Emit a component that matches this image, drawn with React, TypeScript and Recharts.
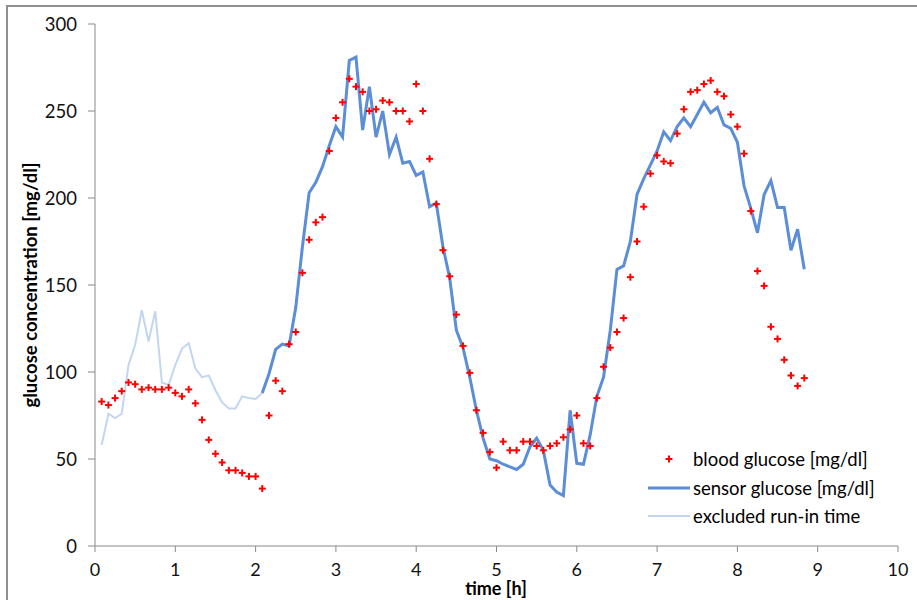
import { ComposedChart, Line, Scatter, XAxis, YAxis } from 'recharts';

// time grid in hours (5 min samples)
const times = [
  0.083, 0.167, 0.25, 0.333, 0.417, 0.5, 0.583, 0.667, 0.75, 0.833, 0.917, 1.0,
  1.083, 1.167, 1.25, 1.333, 1.417, 1.5, 1.583, 1.667, 1.75, 1.833, 1.917, 2.0,
  2.083, 2.167, 2.25, 2.333, 2.417, 2.5, 2.583, 2.667, 2.75, 2.833, 2.917, 3.0,
  3.083, 3.167, 3.25, 3.333, 3.417, 3.5, 3.583, 3.667, 3.75, 3.833, 3.917, 4.0,
  4.083, 4.167, 4.25, 4.333, 4.417, 4.5, 4.583, 4.667, 4.75, 4.833, 4.917, 5.0,
  5.083, 5.167, 5.25, 5.333, 5.417, 5.5, 5.583, 5.667, 5.75, 5.833, 5.917, 6.0,
  6.083, 6.167, 6.25, 6.333, 6.417, 6.5, 6.583, 6.667, 6.75, 6.833, 6.917, 7.0,
  7.083, 7.167, 7.25, 7.333, 7.417, 7.5, 7.583, 7.667, 7.75, 7.833, 7.917, 8.0,
  8.083, 8.167, 8.25, 8.333, 8.417, 8.5, 8.583, 8.667, 8.75, 8.833,
];

const bloodGlucose = [
  83, 81, 85, 89, 94, 93, 90, 91, 90, 90, 91, 88,
  86, 90, 82, 72.5, 61, 53, 48, 43.5, 43.5, 42, 40, 40,
  33, 75, 95, 89, 116, 123, 157, 176, 186, 189, 227, 246,
  255, 268.5, 264, 261, 250, 251, 256, 255, 250, 250, 244, 265.5,
  250, 222.5, 196.5, 170, 155, 133, 115, 99.5, 78, 65, 54, 45,
  60, 55, 55, 60, 60, 57.5, 55, 57.5, 59, 62.5, 67, 75,
  59, 57.5, 85, 103, 114, 123, 131, 154.5, 175, 195, 214, 224.5,
  221, 220, 237, 251, 261, 262, 265.5, 267.5, 261, 258.5, 248, 241,
  225.5, 192.5, 158, 149.5, 126, 119, 107, 98, 92, 96.5,
];

// sensor starts at 2.083 h
const sensorStart = 24;
const sensorGlucose = [
  88, 99, 113, 116, 115, 137, 172, 203, 209, 218, 230, 241,
  235, 279, 281, 239, 264, 235, 250, 225, 235, 220, 221, 213,
  215, 195, 197, 172, 154, 124, 114, 97, 78, 62, 50, 49,
  47, 45.5, 44, 47, 57, 62, 55, 35, 31, 29, 78, 47.5,
  47, 64, 86, 97, 124, 159, 161, 175, 202, 211, 219, 227,
  238, 233, 241, 246, 241, 248, 255, 249, 252, 242, 240, 232,
  207, 194, 180, 202, 210, 194.5, 194.5, 170, 182, 159,
];

// run-in period, 0.083 - 2.083 h
const runInGlucose = [
  58, 76, 73.5, 76, 104, 115.5, 135.5, 117.5, 135, 94, 92.5, 104,
  113.5, 116.5, 102, 97, 98, 89.5, 82.5, 79, 79, 86, 85, 84.5, 88,
];

const xTicks = [0, 1, 2, 3, 4, 5, 6, 7, 8, 9, 10];
const yTicks = [0, 50, 100, 150, 200, 250, 300];

const data = times.map((t, i) => ({
  t,
  blood: bloodGlucose[i],
  runIn: i < runInGlucose.length ? runInGlucose[i] : null,
  sensor: i >= sensorStart ? sensorGlucose[i - sensorStart] : null,
}));

const FONT = 'Lato, "Liberation Sans", sans-serif';
const RED = '#ff0000';
const BLUE = '#5b8ed6';
const LIGHT = '#c3d6ef';
const AXIS = '#8a8a8a';

const Plus = (props: any) => {
  const { cx, cy } = props;
  if (cx == null || cy == null) return null;
  return (
    <g stroke={RED} strokeWidth={2}>
      <line x1={cx - 3.5} y1={cy} x2={cx + 3.5} y2={cy} />
      <line x1={cx} y1={cy - 3.5} x2={cx} y2={cy + 3.5} />
    </g>
  );
};

const legendRows = [
  { name: 'blood glucose [mg/dl]', kind: 'plus' },
  { name: 'sensor glucose [mg/dl]', kind: 'thick' },
  { name: 'excluded run-in time', kind: 'thin' },
];

const GlucoseLegend = () => (
  <div style={{ position: 'absolute', left: 646, top: 445, fontFamily: FONT, fontSize: 18.5, color: '#000' }}>
    {legendRows.map((r) => (
      <div key={r.name} style={{ display: 'flex', alignItems: 'center', height: 28.5 }}>
        <svg width={47} height={28} style={{ display: 'block' }}>
          {r.kind === 'plus' && <Plus cx={23} cy={14} />}
          {r.kind === 'thick' && <line x1={2} y1={14} x2={44} y2={14} stroke={BLUE} strokeWidth={3} />}
          {r.kind === 'thin' && <line x1={2} y1={14} x2={44} y2={14} stroke={LIGHT} strokeWidth={2} />}
        </svg>
        <span style={{ whiteSpace: 'nowrap' }}>{r.name}</span>
      </div>
    ))}
  </div>
);

export default function App() {
  return (
    <div style={{ position: 'fixed', left: 0, top: 0, width: 917, height: 600, background: '#fff' }}>
      <div style={{ position: 'absolute', left: 0, top: 0 }}>
        <ComposedChart width={917} height={600} data={data} margin={{ top: 24, right: 19, left: 0, bottom: 0 }}>
          <XAxis
            dataKey="t"
            type="number"
            domain={[0, 10]}
            ticks={xTicks}
            interval={0}
            height={54}
            stroke={AXIS}
            tickSize={6}
            tickMargin={11}
            tick={{ fill: '#111', fontSize: 18, fontFamily: FONT }}
          />
          <YAxis
            type="number"
            domain={[0, 300]}
            ticks={yTicks}
            interval={0}
            width={95}
            stroke={AXIS}
            tickSize={7}
            tickMargin={11}
            tick={{ fill: '#111', fontSize: 18.5, fontFamily: FONT }}
          />
          <Line
            dataKey="runIn"
            name="excluded run-in time"
            stroke={LIGHT}
            strokeWidth={2}
            dot={false}
            activeDot={false}
            connectNulls={false}
            isAnimationActive={false}
          />
          <Line
            dataKey="sensor"
            name="sensor glucose [mg/dl]"
            stroke={BLUE}
            strokeWidth={3}
            dot={false}
            activeDot={false}
            connectNulls={false}
            isAnimationActive={false}
          />
          <Scatter
            dataKey="blood"
            name="blood glucose [mg/dl]"
            fill={RED}
            shape={<Plus />}
            isAnimationActive={false}
          />
        </ComposedChart>
      </div>
      <GlucoseLegend />
      <svg width={917} height={600} style={{ position: 'absolute', left: 0, top: 0, pointerEvents: 'none' }}>
        <rect x={7} y={6} width={930} height={620} fill="none" stroke="#8f8f8f" strokeWidth={2} />
        <text
          x={30}
          y={285}
          transform="rotate(-90 30 285)"
          textAnchor="middle"
          dominantBaseline="central"
          fontFamily={FONT}
          fontWeight="bold"
          fontSize={18.5}
          fill="#000"
        >
          glucose concentration [mg/dl]
        </text>
        <text x={496} y={595} textAnchor="middle" fontFamily={FONT} fontWeight="bold" fontSize={18} fill="#000">
          time [h]
        </text>
      </svg>
    </div>
  );
}
